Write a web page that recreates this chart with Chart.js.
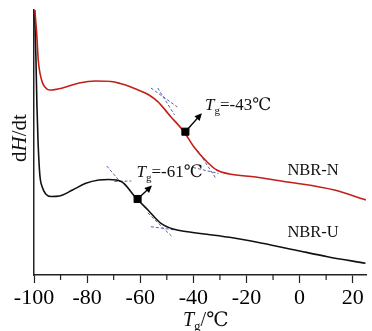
<!DOCTYPE html>
<html>
<head>
<meta charset="utf-8">
<script src="https://cdn.jsdelivr.net/npm/chart.js@4.4.1/dist/chart.umd.min.js"></script>
<style>
  body { margin: 0; background: #fff; }
  #wrap { width: 372px; height: 331px; position: relative; }
</style>
</head>
<body>
<div id="wrap"><canvas id="dscChart"></canvas></div>
<script>
// temperature (°C) and heat flow (arbitrary units)
const tempN = [-99.7, -99.0, -98.4, -97.15, -95.9, -94.1, -89.3, -83.0, -76.8, -71.0, -67.5, -64.0, -60.8, -57.0, -53.4, -48.5, -43.55, -39.85, -34.9, -31.2, -26.4, -16.5, -5.4, -1.7, 13.1, 24.2, 25];
const dhN   = [265, 242, 215, 195, 188, 185, 187, 192, 194, 193.5, 191.5, 188.5, 185, 180.5, 173.3, 158.3, 143.3, 128.3, 113.3, 105, 101, 98, 93.3, 92, 85, 75.7, 75];

const tempU = [-99.8, -99.3, -98.9, -98.5, -97.8, -96.9, -95.6, -93.5, -90.4, -85.5, -80.5, -75.6, -71.9, -67.0, -62.0, -57.1, -52.2, -47.25, -42.3, -34.9, -26.4, -14.0, -1.7, 10.5, 24.8];
const dhU   = [265, 220, 170, 135, 100, 88, 81, 78.5, 79, 85, 91.7, 95, 95.5, 93.3, 78.3, 65, 51.7, 45.7, 43.3, 40.7, 37.7, 31.7, 25, 18.3, 11.7];

// glass transition points
const tgTemps = [-43, -61];
const tgValues = [143.3, 76];
const tgLabels = ['=-43℃', '=-61℃'];

// dashed tangent construction lines: [x1, y1, x2, y2]
const tangentsN = [[-56.0, 187, -46.0, 168], [-53.4, 187, -47.1, 160], [-38.6, 125, -31.6, 97], [-40.1, 107.5, -30.5, 101.5]];
const tangentsU = [[-72.6, 109, -67.5, 93], [-69.7, 93.5, -63.4, 94], [-57.1, 62, -47.9, 38], [-56.0, 48.3, -46.8, 45]];

// arrow tips from the Tg markers
const arrowTipT = [-36.8, -55.6];
const arrowTipV = [161.7, 89.5];

const xMajor = [-100, -80, -60, -40, -20, 0, 20];
const xMinor = [-90, -70, -50, -30, -10, 10];

const serif = "'Liberation Serif', 'DejaVu Serif', serif";

const toPoints = (xs, ys) => xs.map((v, i) => ({ x: v, y: ys[i] }));

const datasets = [
  { data: toPoints(tempN, dhN), borderColor: '#c21f16', borderWidth: 1.6, pointRadius: 0, cubicInterpolationMode: 'monotone', order: 1 },
  { data: toPoints(tempU, dhU), borderColor: '#111', borderWidth: 1.6, pointRadius: 0, cubicInterpolationMode: 'monotone', order: 1 }
];
tangentsN.concat(tangentsU).forEach(t => {
  datasets.push({
    data: [{ x: t[0], y: t[1] }, { x: t[2], y: t[3] }],
    borderColor: '#5263a8', borderWidth: 1, borderDash: [3, 2], pointRadius: 0, order: 2
  });
});
datasets.push({
  data: toPoints(tgTemps, tgValues), showLine: false,
  pointStyle: 'rect', pointRadius: 5, backgroundColor: '#000', borderColor: '#000', order: 0
});

const extras = {
  id: 'extras',
  afterDraw(chart) {
    const { ctx, scales: { x, y } } = chart;
    const bottom = chart.chartArea.bottom;
    ctx.save();
    // minor ticks
    ctx.strokeStyle = '#222';
    ctx.lineWidth = 1.2;
    xMinor.forEach(v => {
      const px = x.getPixelForValue(v);
      ctx.beginPath();
      ctx.moveTo(px, bottom);
      ctx.lineTo(px, bottom + 5);
      ctx.stroke();
    });
    // arrows
    tgTemps.forEach((t, i) => {
      const x0 = x.getPixelForValue(t), y0 = y.getPixelForValue(tgValues[i]);
      const x1 = x.getPixelForValue(arrowTipT[i]), y1 = y.getPixelForValue(arrowTipV[i]);
      const a = Math.atan2(y1 - y0, x1 - x0);
      ctx.strokeStyle = '#000';
      ctx.lineWidth = 1.3;
      ctx.beginPath();
      ctx.moveTo(x0, y0);
      ctx.lineTo(x1 - 5 * Math.cos(a), y1 - 5 * Math.sin(a));
      ctx.stroke();
      ctx.fillStyle = '#000';
      ctx.beginPath();
      ctx.moveTo(x1, y1);
      ctx.lineTo(x1 - 8 * Math.cos(a - 0.45), y1 - 8 * Math.sin(a - 0.45));
      ctx.lineTo(x1 - 8 * Math.cos(a + 0.45), y1 - 8 * Math.sin(a + 0.45));
      ctx.closePath();
      ctx.fill();
    });
    // Tg labels
    const tgPos = [[-35.6, 165], [-61.4, 98]];
    ctx.fillStyle = '#111';
    ctx.textBaseline = 'alphabetic';
    tgPos.forEach((p, i) => {
      let px = x.getPixelForValue(p[0]);
      const py = y.getPixelForValue(p[1]);
      ctx.font = 'italic 17px ' + serif;
      ctx.fillText('T', px, py);
      px += ctx.measureText('T').width;
      ctx.font = '11px ' + serif;
      ctx.fillText('g', px, py + 4);
      px += ctx.measureText('g').width;
      ctx.font = '17px ' + serif;
      ctx.fillText(tgLabels[i], px, py);
    });
    // series names
    ctx.font = '16.5px ' + serif;
    ctx.fillText('NBR-N', x.getPixelForValue(-4.6), y.getPixelForValue(100));
    ctx.fillText('NBR-U', x.getPixelForValue(-4.6), y.getPixelForValue(38.3));
    // x title
    let tx = 183;
    const ty = 326;
    ctx.font = 'italic 20px ' + serif;
    ctx.fillText('T', tx, ty);
    tx += ctx.measureText('T').width;
    ctx.font = '13px ' + serif;
    ctx.fillText('g', tx, ty + 4);
    tx += ctx.measureText('g').width;
    ctx.font = '20px ' + serif;
    ctx.fillText('/℃', tx, ty);
    // y title
    ctx.translate(26, 162);
    ctx.rotate(-Math.PI / 2);
    let yx = 0;
    ctx.font = '21px ' + serif;
    ctx.fillText('d', yx, 0);
    yx += ctx.measureText('d').width;
    ctx.font = 'italic 21px ' + serif;
    ctx.fillText('H', yx, 0);
    yx += ctx.measureText('H').width;
    ctx.font = '21px ' + serif;
    ctx.fillText('/dt', yx, 0);
    ctx.restore();
  }
};

new Chart(document.getElementById('dscChart'), {
  type: 'scatter',
  data: { datasets: datasets.map(d => Object.assign({ showLine: d.showLine !== false, fill: false }, d)) },
  options: {
    responsive: true,
    maintainAspectRatio: false,
    animation: false,
    layout: { padding: { top: 10, right: 0, left: 0, bottom: 0 } },
    plugins: { legend: { display: false }, tooltip: { enabled: false } },
    scales: {
      x: {
        type: 'linear', min: -100, max: 25,
        afterBuildTicks: s => { s.ticks = xMajor.map(v => ({ value: v })); },
        afterFit: s => { s.height = 56; },
        border: { display: true, color: '#222', width: 1.5 },
        grid: { drawOnChartArea: false, drawTicks: true, tickLength: 8, tickColor: '#222', tickWidth: 1.2 },
        ticks: { color: '#000', padding: 2, maxRotation: 0, font: { family: serif, size: 22 } }
      },
      y: {
        type: 'linear', min: 0, max: 265,
        afterFit: s => { s.width = 34; },
        border: { display: true, color: '#222', width: 1.5 },
        grid: { display: false, drawTicks: false },
        ticks: { display: false }
      }
    }
  },
  plugins: [extras]
});
</script>
</body>
</html>
